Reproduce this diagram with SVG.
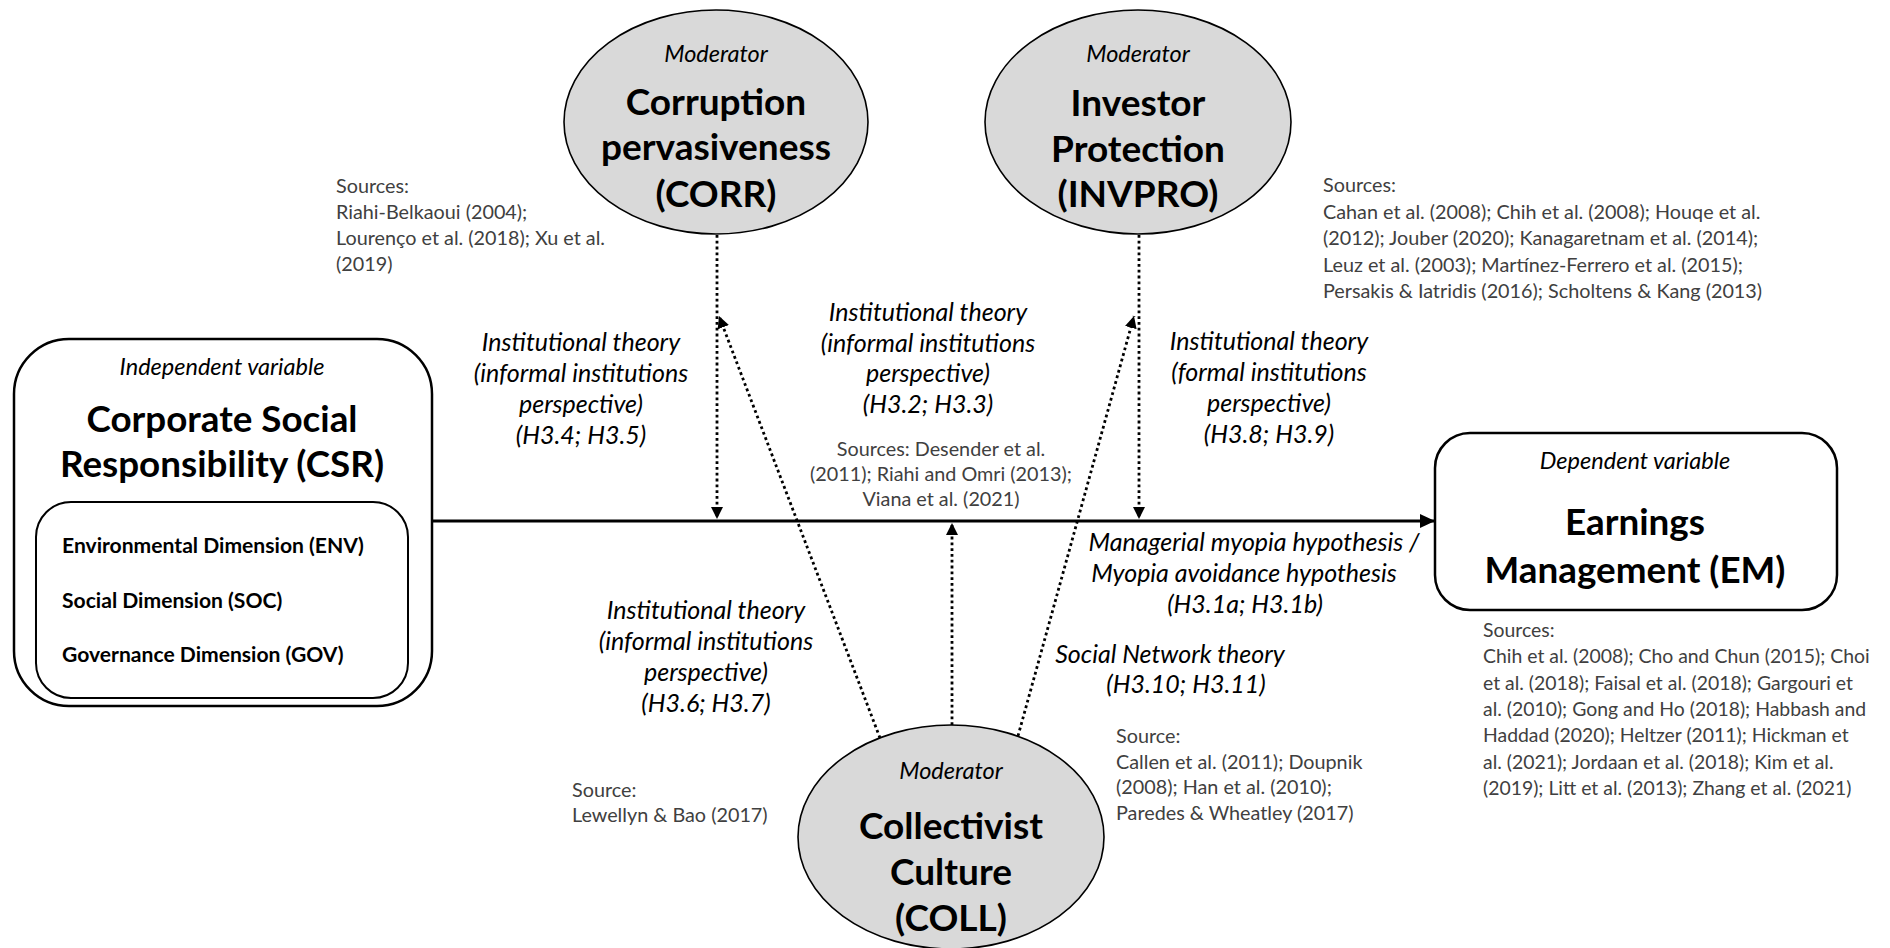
<svg xmlns="http://www.w3.org/2000/svg" width="1890" height="948" viewBox="0 0 1890 948">
  <style>
    text { font-family: Lato, "Liberation Sans", sans-serif; }
    .src { font-size: 19.8px; fill: #404040; }
    .srce { font-size: 19.4px; fill: #404040; }
    .srcc { font-size: 19.8px; fill: #404040; text-anchor: middle; }
    .lbl { font-size: 25px; font-style: italic; fill: #000; text-anchor: middle; }
    .mod { font-size: 23.5px; font-style: italic; fill: #000; text-anchor: middle; }
    .ttl { font-size: 37px; font-weight: bold; fill: #000; text-anchor: middle; }
    .big { font-size: 36.8px; font-weight: bold; fill: #000; text-anchor: middle; }
    .dim { font-size: 21.1px; font-weight: bold; fill: #000; }
    .box { fill: #fff; stroke: #000; stroke-width: 2.5; }
    .inner { fill: #fff; stroke: #000; stroke-width: 2; }
    .ell { fill: #d9d9d9; stroke: #000; stroke-width: 1.6; }
    .main { stroke: #000; stroke-width: 3; fill: none; }
    .dot { stroke: #000; stroke-width: 2.8; stroke-dasharray: 2.8 3; fill: none; }
  </style>
  <defs>
    <marker id="headMain" markerUnits="userSpaceOnUse" markerWidth="16" markerHeight="14" refX="15" refY="7" orient="auto">
      <path d="M0,0 L15,7 L0,14 z" fill="#000"/>
    </marker>
    <marker id="headDot" markerUnits="userSpaceOnUse" markerWidth="13" markerHeight="12" refX="12" refY="6" orient="auto">
      <path d="M0,0 L12,6 L0,12 z" fill="#000"/>
    </marker>
  </defs>

  <!-- connectors -->
  <g id="connectors">
    <line class="main" x1="432" y1="521" x2="1435" y2="521" marker-end="url(#headMain)"/>
    <line class="dot" x1="717" y1="235" x2="717" y2="519" marker-end="url(#headDot)"/>
    <line class="dot" x1="1139" y1="235" x2="1139" y2="519" marker-end="url(#headDot)"/>
    <line class="dot" x1="880" y1="738" x2="719" y2="316" marker-end="url(#headDot)"/>
    <line class="dot" x1="952" y1="725" x2="952" y2="523" marker-end="url(#headDot)"/>
    <line class="dot" x1="1018" y1="736" x2="1134" y2="316" marker-end="url(#headDot)"/>
  </g>

  <!-- independent variable -->
  <g id="csr">
    <rect class="box" x="14" y="339" width="418" height="367" rx="55"/>
    <text class="mod" x="222" y="375">Independent variable</text>
    <text class="big" x="222" y="432">Corporate Social</text>
    <text class="big" x="222" y="477">Responsibility (CSR)</text>
    <rect class="inner" x="36" y="502" width="372" height="196" rx="35"/>
    <text class="dim" x="62" y="553">Environmental Dimension (ENV)</text>
    <text class="dim" x="62" y="608">Social Dimension (SOC)</text>
    <text class="dim" x="62" y="662">Governance Dimension (GOV)</text>
  </g>

  <!-- dependent variable -->
  <g id="em">
    <rect class="box" x="1435" y="433" width="402" height="177" rx="35"/>
    <text class="mod" x="1635" y="469">Dependent variable</text>
    <text class="big" x="1635" y="535">Earnings</text>
    <text class="big" x="1635" y="583">Management (EM)</text>
  </g>

  <!-- moderators -->
  <g id="corr">
    <ellipse class="ell" cx="716" cy="122" rx="152" ry="112"/>
    <text class="mod" x="716" y="62">Moderator</text>
    <text class="ttl" x="716" y="115">Corruption</text>
    <text class="ttl" x="716" y="160">pervasiveness</text>
    <text class="ttl" x="716" y="207">(CORR)</text>
  </g>
  <g id="invpro">
    <ellipse class="ell" cx="1138" cy="122" rx="153" ry="112"/>
    <text class="mod" x="1138" y="62">Moderator</text>
    <text class="ttl" x="1138" y="116">Investor</text>
    <text class="ttl" x="1138" y="162">Protection</text>
    <text class="ttl" x="1138" y="207">(INVPRO)</text>
  </g>
  <g id="coll">
    <ellipse class="ell" cx="951" cy="837" rx="153" ry="112"/>
    <text class="mod" x="951" y="779">Moderator</text>
    <text class="ttl" x="951" y="839">Collectivist</text>
    <text class="ttl" x="951" y="885">Culture</text>
    <text class="ttl" x="951" y="931">(COLL)</text>
  </g>

  <!-- theory labels -->
  <g id="label-h34">
    <text class="lbl" x="581" y="351">Institutional theory</text>
    <text class="lbl" x="581" y="382">(informal institutions</text>
    <text class="lbl" x="581" y="413">perspective)</text>
    <text class="lbl" x="581" y="444">(H3.4; H3.5)</text>
  </g>
  <g id="label-h32">
    <text class="lbl" x="928" y="321">Institutional theory</text>
    <text class="lbl" x="928" y="352">(informal institutions</text>
    <text class="lbl" x="928" y="382">perspective)</text>
    <text class="lbl" x="928" y="413">(H3.2; H3.3)</text>
  </g>
  <g id="label-h38">
    <text class="lbl" x="1269" y="350">Institutional theory</text>
    <text class="lbl" x="1269" y="381">(formal institutions</text>
    <text class="lbl" x="1269" y="412">perspective)</text>
    <text class="lbl" x="1269" y="443">(H3.8; H3.9)</text>
  </g>
  <g id="label-h31">
    <text class="lbl" x="1254" y="551">Managerial myopia hypothesis /</text>
    <text class="lbl" x="1244" y="582">Myopia avoidance hypothesis</text>
    <text class="lbl" x="1245" y="613">(H3.1a; H3.1b)</text>
  </g>
  <g id="label-h36">
    <text class="lbl" x="706" y="619">Institutional theory</text>
    <text class="lbl" x="706" y="650">(informal institutions</text>
    <text class="lbl" x="706" y="681">perspective)</text>
    <text class="lbl" x="706" y="712">(H3.6; H3.7)</text>
  </g>
  <g id="label-h310">
    <text class="lbl" x="1170" y="663">Social Network theory</text>
    <text class="lbl" x="1186" y="693">(H3.10; H3.11)</text>
  </g>

  <!-- sources -->
  <g id="src-corr">
    <text class="src" x="336" y="193">Sources:</text>
    <text class="src" x="336" y="219">Riahi-Belkaoui (2004);</text>
    <text class="src" x="336" y="245">Lourenço et al. (2018); Xu et al.</text>
    <text class="src" x="336" y="271">(2019)</text>
  </g>
  <g id="src-invpro">
    <text class="src" x="1323" y="192">Sources:</text>
    <text class="src" x="1323" y="218.5">Cahan et al. (2008); Chih et al. (2008); Houqe et al.</text>
    <text class="src" x="1323" y="245">(2012); Jouber (2020); Kanagaretnam et al. (2014);</text>
    <text class="src" x="1323" y="271.5">Leuz et al. (2003); Martínez-Ferrero et al. (2015);</text>
    <text class="src" x="1323" y="298">Persakis &amp; Iatridis (2016); Scholtens &amp; Kang (2013)</text>
  </g>
  <g id="src-h32">
    <text class="srcc" x="941" y="456">Sources: Desender et al.</text>
    <text class="srcc" x="941" y="481">(2011); Riahi and Omri (2013);</text>
    <text class="srcc" x="941" y="506">Viana et al. (2021)</text>
  </g>
  <g id="src-em">
    <text class="srce" x="1483" y="637">Sources:</text>
    <text class="srce" x="1483" y="663">Chih et al. (2008); Cho and Chun (2015); Choi</text>
    <text class="srce" x="1483" y="689.5">et al. (2018); Faisal et al. (2018); Gargouri et</text>
    <text class="srce" x="1483" y="716">al. (2010); Gong and Ho (2018); Habbash and</text>
    <text class="srce" x="1483" y="742">Haddad (2020); Heltzer (2011); Hickman et</text>
    <text class="srce" x="1483" y="768.5">al. (2021); Jordaan et al. (2018); Kim et al.</text>
    <text class="srce" x="1483" y="794.5">(2019); Litt et al. (2013); Zhang et al. (2021)</text>
  </g>
  <g id="src-coll-left">
    <text class="src" x="572" y="797">Source:</text>
    <text class="src" x="572" y="822">Lewellyn &amp; Bao (2017)</text>
  </g>
  <g id="src-coll-right">
    <text class="src" x="1116" y="743">Source:</text>
    <text class="src" x="1116" y="768.5">Callen et al. (2011); Doupnik</text>
    <text class="src" x="1116" y="794">(2008); Han et al. (2010);</text>
    <text class="src" x="1116" y="819.5">Paredes &amp; Wheatley (2017)</text>
  </g>
</svg>
